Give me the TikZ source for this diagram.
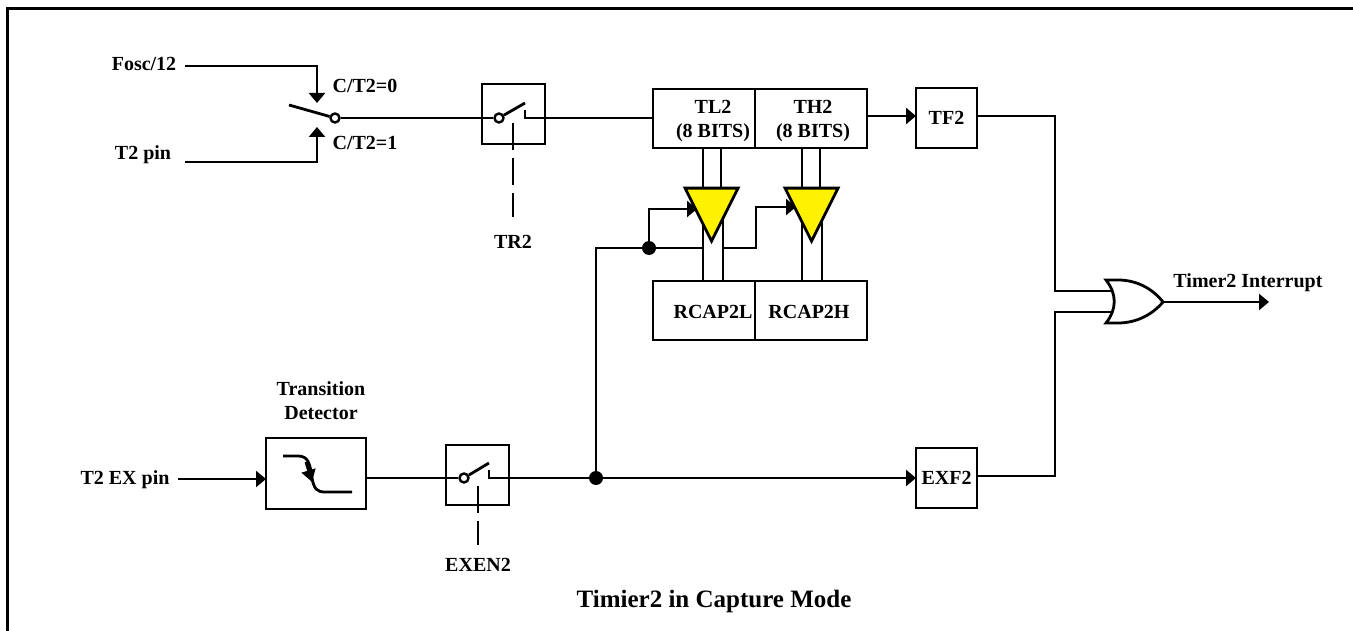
\documentclass[tikz,border=0pt]{standalone}
\usepackage{fontspec}
\setmainfont{Liberation Serif}
\usetikzlibrary{arrows.meta,shapes.geometric}
\tikzset{
  wire/.style={line width=2.8pt},
  arrowwire/.style={wire, -{Triangle[length=10pt,width=16pt]}},
  ctrlwire/.style={wire, dash pattern=on 27pt off 8pt},
  regbox/.style={draw, line width=2.8pt, inner sep=0pt, outer sep=0pt, align=center},
  pivot/.style={draw, circle, fill=white, line width=2.4pt, minimum size=9pt, inner sep=0pt},
  joint/.style={circle, fill=black, minimum size=14pt, inner sep=0pt},
  buffer/.style={draw, fill=yellow, line width=2.8pt, isosceles triangle, isosceles triangle stretches, shape border rotate=-90, minimum width=53pt, minimum height=53pt, inner sep=0pt, outer sep=0pt},
  lbl/.style={font=\fontsize{20}{24}\selectfont\bfseries, inner sep=0pt, align=center}
}
\begin{document}
\begin{tikzpicture}[x=1pt, y=-1pt]
\useasboundingbox (0,0) rectangle (1353,631);
% Outer frame
\draw[line width=3pt] (7,631) -- (7,9) -- (1353,9);

% Clock select
\node[lbl] (fosc) at (144,64) {Fosc/12};
\node[lbl] (t2pin) at (143,155) {T2 pin};
\node[lbl] (ct0) at (365,86) {C/T2=0};
\node[lbl] (ct1) at (365,143) {C/T2=1};
\node[pivot] (selpivot) at (335,118) {};
\coordinate (selblade) at (289,105);
\coordinate (foscstart) at (185,66);
\coordinate (t2start) at (185,162);
\draw[arrowwire] (foscstart) -- (317,66) -- (317,103);
\draw[arrowwire] (t2start) -- (317,162) -- (317,127);
\draw[wire] (selblade) -- (selpivot);

% TR2 switch
\node[regbox, minimum width=63pt, minimum height=60pt] (trbox) at (513.5,114) {};
\node[pivot] (trpivot) at (499,118) {};
\coordinate (trblade) at (525,103);
\coordinate (trcontact) at (525,110);
\coordinate (trctl) at (513,123);
\coordinate (trctlend) at (513,217);
\node[lbl] (tr2) at (513,242) {TR2};
\draw[wire] (selpivot) -- (trpivot);
\draw[wire] (trpivot) -- (trblade);
\draw[ctrlwire] (trctl) -- (trctlend);

% Registers
\node[regbox, minimum width=102pt, minimum height=59pt] (tl2) at (704,118.5) {};
\node[regbox, minimum width=112pt, minimum height=59pt] (th2) at (811,118.5) {};
\node[regbox, minimum width=102pt, minimum height=59pt] (rcapl) at (704,310.5) {};
\node[regbox, minimum width=112pt, minimum height=59pt] (rcaph) at (811,310.5) {};
\node[lbl] (tl2txt) at (713,121) {TL2\\[0pt](8 BITS)};
\node[lbl] (th2txt) at (813,121) {TH2\\[0pt](8 BITS)};
\node[lbl] (rcapltxt) at (713,312) {RCAP2L};
\node[lbl] (rcaphtxt) at (809,312) {RCAP2H};
\draw[wire] (trcontact) -- (525,118) -- (tl2.west |- 0,118);

% Reload paths, under the buffers
\foreach \xa/\xb/\xc in {703/721/723, 802/820/822} {
  \draw[wire] (\xa,148) -- (\xa,281);
  \draw[wire] (\xb,148) -- (\xb,215);
  \draw[wire] (\xc,215) -- (\xc,281);
}
\node[buffer] (bufl) at (711.5,204.5) {};
\node[buffer] (bufh) at (811.5,204.5) {};

% Capture line
\node[joint] (capjoint) at (596,478) {};
\node[joint] (loadjoint) at (649,248) {};
\coordinate (bufltip) at (697,209);
\coordinate (bufhtip) at (796,207);
\draw[wire] (capjoint) -- (596,248) -- (loadjoint) -- (702,248);
\draw[arrowwire] (loadjoint) -- (649,209) -- (bufltip);
\draw[arrowwire] (723,248) -- (756,248) -- (756,207) -- (bufhtip);

% Flags and interrupt
\node[regbox, lbl, minimum width=61pt, minimum height=60pt] (tf2) at (946.5,118) {TF2};
\node[regbox, lbl, minimum width=61pt, minimum height=60pt] (exf2) at (946.5,478) {EXF2};
\coordinate (orin1) at (1112,291);
\coordinate (orin2) at (1112,312);
\coordinate (orout) at (1163,302);
\coordinate (irqend) at (1269,302);
\node[lbl] (irq) at (1248,283) {Timer2 Interrupt};
\draw[arrowwire] (th2.east |- 0,116) -- (tf2.west |- 0,116);
\draw[wire] (tf2.east |- 0,116) -- (1055,116) -- (1055,291) -- (orin1);
\draw[wire] (exf2.east |- 0,476) -- (1055,476) -- (1055,312) -- (orin2);
\draw[wire, line join=miter] (1106,280) -- (1118,280) .. controls (1136,280) and (1152,288) .. (orout) .. controls (1152,315) and (1136,323) .. (1118,323) -- (1106,323) .. controls (1117,309) and (1117,294) .. cycle;
\draw[arrowwire] (orout) -- (irqend);

% Transition detector
\node[lbl] (t2ex) at (125,480) {T2 EX pin};
\node[lbl] (detlbl) at (321,401) {Transition\\[0pt]Detector};
\node[regbox, minimum width=100pt, minimum height=71pt] (detbox) at (316,473.5) {};
\coordinate (t2exstart) at (178,479);
\draw[arrowwire] (t2exstart) -- (detbox.west |- 0,479);
\draw[wire] (283,456) -- (298,456) .. controls (309,456) and (310,465) .. (312,478) .. controls (314,489) and (317,492) .. (325,492) -- (352,492);
\draw[arrowwire, -{Triangle[length=12pt,width=14pt]}] (306,462) -- (312,482);

% EXEN2 switch
\node[regbox, minimum width=63pt, minimum height=60pt] (exbox) at (477.5,475) {};
\node[pivot] (expivot) at (464,478) {};
\coordinate (exblade) at (489,463);
\coordinate (excontact) at (489,470);
\coordinate (exctl) at (478,486);
\coordinate (exctlend) at (478,545);
\node[lbl] (exen2) at (478,565) {EXEN2};
\draw[wire] (detbox.east |- expivot) -- (expivot);
\draw[wire] (expivot) -- (exblade);
\draw[wire] (excontact) -- (489,478) -- (capjoint);
\draw[ctrlwire] (exctl) -- (exctlend);
\draw[arrowwire] (capjoint) -- (exf2.west |- capjoint);

% Caption
\node[font=\fontsize{25}{30}\selectfont\bfseries, inner sep=0pt] (caption) at (714,601) {Timier2 in Capture Mode};
\end{tikzpicture}
\end{document}
